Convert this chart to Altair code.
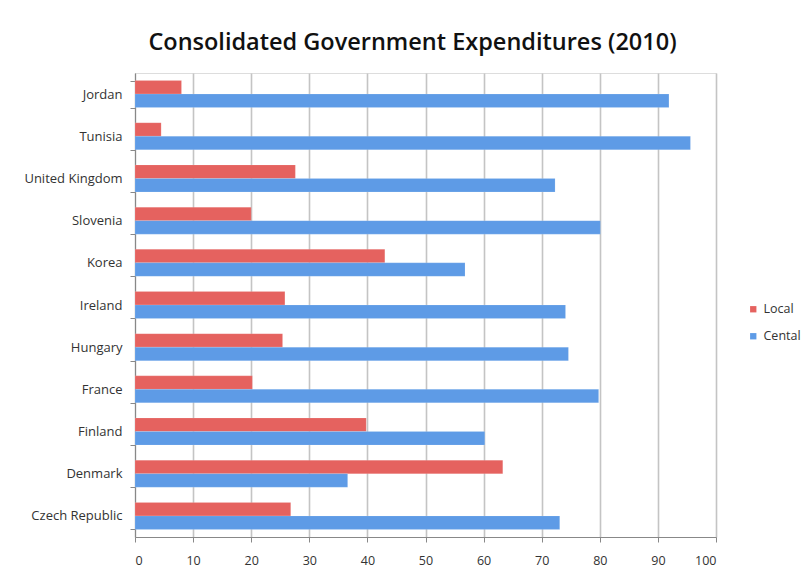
import altair as alt
import pandas as pd

countries = ["Jordan", "Tunisia", "United Kingdom", "Slovenia", "Korea", "Ireland",
             "Hungary", "France", "Finland", "Denmark", "Czech Republic"]
local = [8.0, 4.5, 27.6, 20.0, 43.0, 25.8, 25.4, 20.2, 39.8, 63.3, 26.8]
central = [91.9, 95.6, 72.3, 80.1, 56.8, 74.1, 74.6, 79.8, 60.2, 36.6, 73.1]
series = ["Local", "Cental"]
colors = ["#E5625F", "#5E9BE6"]
x_ticks = list(range(0, 101, 10))

rows = []
for c, l, ce in zip(countries, local, central):
    rows.append({"country": c, "series": "Local", "value": l})
    rows.append({"country": c, "series": "Cental", "value": ce})
df = pd.DataFrame(rows)

FONT = "Open Sans"
LABEL = "#333333"

chart = alt.Chart(df).mark_bar(
    stroke="#FFFFFF", strokeOpacity=0.25, strokeWidth=0.5
).encode(
    y=alt.Y("country:N", sort=countries, title=None,
            scale=alt.Scale(paddingInner=0.36, paddingOuter=0.18),
            axis=alt.Axis(tickBand="extent", ticks=True, tickSize=5, tickColor="#888888",
                          domainColor="#888888", labelPadding=8, labelFontSize=13,
                          labelColor=LABEL, labelFont=FONT, grid=False)),
    yOffset=alt.YOffset("series:N", sort=series),
    x=alt.X("value:Q", title=None,
            scale=alt.Scale(domain=[0, 100], nice=False, zero=True),
            axis=alt.Axis(values=x_ticks, grid=True, gridColor="#C4C4C4", gridWidth=1.6,
                          tickSize=5, tickColor="#888888", domainColor="#888888",
                          labelPadding=12, labelFontSize=12.5, labelColor=LABEL,
                          labelFont=FONT)),
    color=alt.Color("series:N", sort=series,
                    scale=alt.Scale(domain=series, range=colors),
                    legend=alt.Legend(title=None, orient="none", legendX=612, legendY=230,
                                      symbolType="square", symbolSize=40, symbolStrokeWidth=0,
                                      labelFontSize=12.5, labelFont=FONT, labelColor=LABEL,
                                      rowPadding=14, labelOffset=4)),
).properties(
    width=581,
    height=464,
    title=alt.TitleParams("Consolidated Government Expenditures (2010)", font=FONT,
                          fontSize=23.5, fontWeight=600, color="#111111",
                          anchor="middle", dx=-13, offset=13),
    autosize=alt.AutoSizeParams(type="none"),
    padding={"left": 135, "top": 73, "right": 92, "bottom": 44},
).configure_view(stroke=None).configure(background="#FFFFFF")

chart.save("out.html", embed_options={"renderer": "svg", "actions": False})
